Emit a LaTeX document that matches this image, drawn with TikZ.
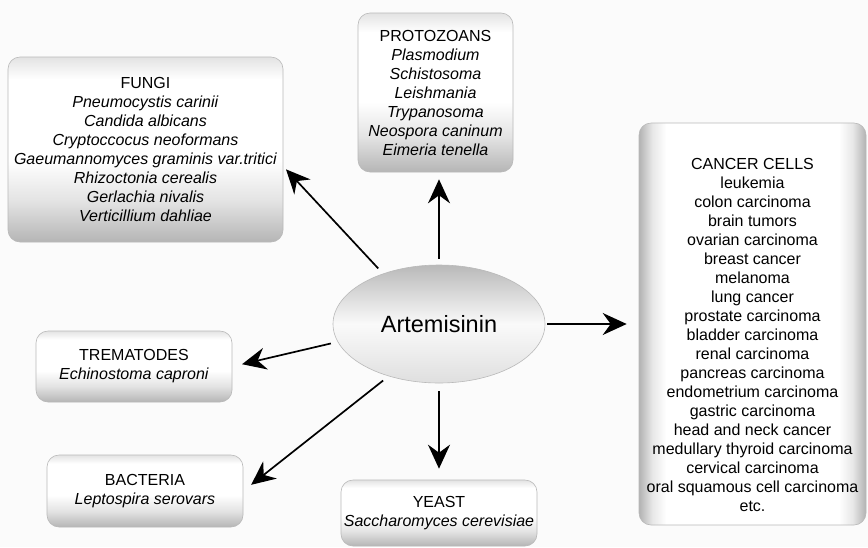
\documentclass[tikz,border=0pt]{standalone}
\usepackage{fontspec}
\setmainfont{Liberation Sans}
\usetikzlibrary{arrows.meta,shapes}

\pgfdeclareverticalshading{panelshade}{100bp}{color(0bp)=(gray!58); color(25bp)=(gray!58);
	color(36bp)=(gray!22); color(47bp)=(white); color(69bp)=(white); color(75bp)=(gray!22); color(100bp)=(gray!22)}
\pgfdeclarehorizontalshading{sideshade}{100bp}{color(0bp)=(gray!60); color(25bp)=(gray!60);
	color(28bp)=(gray!18); color(31bp)=(white); color(69bp)=(white); color(72bp)=(gray!18); color(75bp)=(gray!60); color(100bp)=(gray!60)}

\begin{document}
\begin{tikzpicture}
	[
		x=1pt, y=-1pt,
		every node/.style = {align=center, font=\fontsize{16}{19}\selectfont},
		panel/.style = {draw=gray!55, line width=0.6pt, rounded corners=12pt, inner sep=0pt,
			shade, shading=panelshade},
		drug/.style = {shape=ellipse, draw=gray!55, line width=0.6pt, inner sep=0pt,
			minimum width=212pt, minimum height=118pt,
			top color=gray!55, bottom color=gray!25, middle color=gray!4,
			font=\fontsize{23.5}{28}\selectfont},
		arr/.style = {line width=1.7pt, -{Stealth[length=24pt,width=22pt,inset=8pt]}, shorten <=7pt},
	]

  \useasboundingbox[fill=white!97!gray] (0,0) rectangle (868,547);

  \node[drug] (art) at (439,324) {Artemisinin};

  \node[panel, minimum width=275pt, minimum height=185pt] (fungi) at (145.5,149.5)
  	{FUNGI\\ \textit{Pneumocystis carinii}\\ \textit{Candida albicans}\\
  	 \textit{Cryptoccocus neoformans}\\ \textit{Gaeumannomyces graminis var.tritici}\\
  	 \textit{Rhizoctonia cerealis}\\ \textit{Gerlachia nivalis}\\ \textit{Verticillium dahliae}};

  \node[panel, minimum width=155pt, minimum height=159pt] (proto) at (435.5,92.5)
  	{PROTOZOANS\\ \textit{Plasmodium}\\ \textit{Schistosoma}\\ \textit{Leishmania}\\
  	 \textit{Trypanosoma}\\ \textit{Neospora caninum}\\ \textit{Eimeria tenella}};

  \node[panel, minimum width=227pt, minimum height=402pt, shading=sideshade] (cancer) at (752.5,324) {};
  \node (cancerlist) at ([yshift=-11pt]cancer.center)
  	{CANCER CELLS\\ leukemia\\ colon carcinoma\\ brain tumors\\ ovarian carcinoma\\
  	 breast cancer\\ melanoma\\ lung cancer\\ prostate carcinoma\\ bladder carcinoma\\
  	 renal carcinoma\\ pancreas carcinoma\\ endometrium carcinoma\\ gastric carcinoma\\
  	 head and neck cancer\\ medullary thyroid carcinoma\\ cervical carcinoma\\
  	 oral squamous cell carcinoma\\ etc.};

  \node[panel, minimum width=196pt, minimum height=71pt] (trem) at (134,366.5)
  	{TREMATODES\\ \textit{Echinostoma caproni}};

  \node[panel, minimum width=196pt, minimum height=72pt] (bact) at (145,491)
  	{BACTERIA\\ \textit{Leptospira serovars}};

  \node[panel, minimum width=196pt, minimum height=66pt] (yeast) at (439,513)
  	{YEAST\\ \textit{Saccharomyces cerevisiae}};

  \path[arr]
  (art.138) edge [shorten >=4pt] (fungi.-7)
  (art.north) edge [shorten <=6pt, shorten >=7pt] (art.north |- proto.south)
  (art.east) edge [shorten <=2pt, shorten >=12pt] (art.east -| cancer.west)
  (art.190) edge [shorten >=10pt] (trem.east)
  (art.226) edge [shorten >=10pt] (bact.east)
  (art.south) edge [shorten <=8pt, shorten >=11pt] (art.south |- yeast.north);

\end{tikzpicture}
\end{document}
